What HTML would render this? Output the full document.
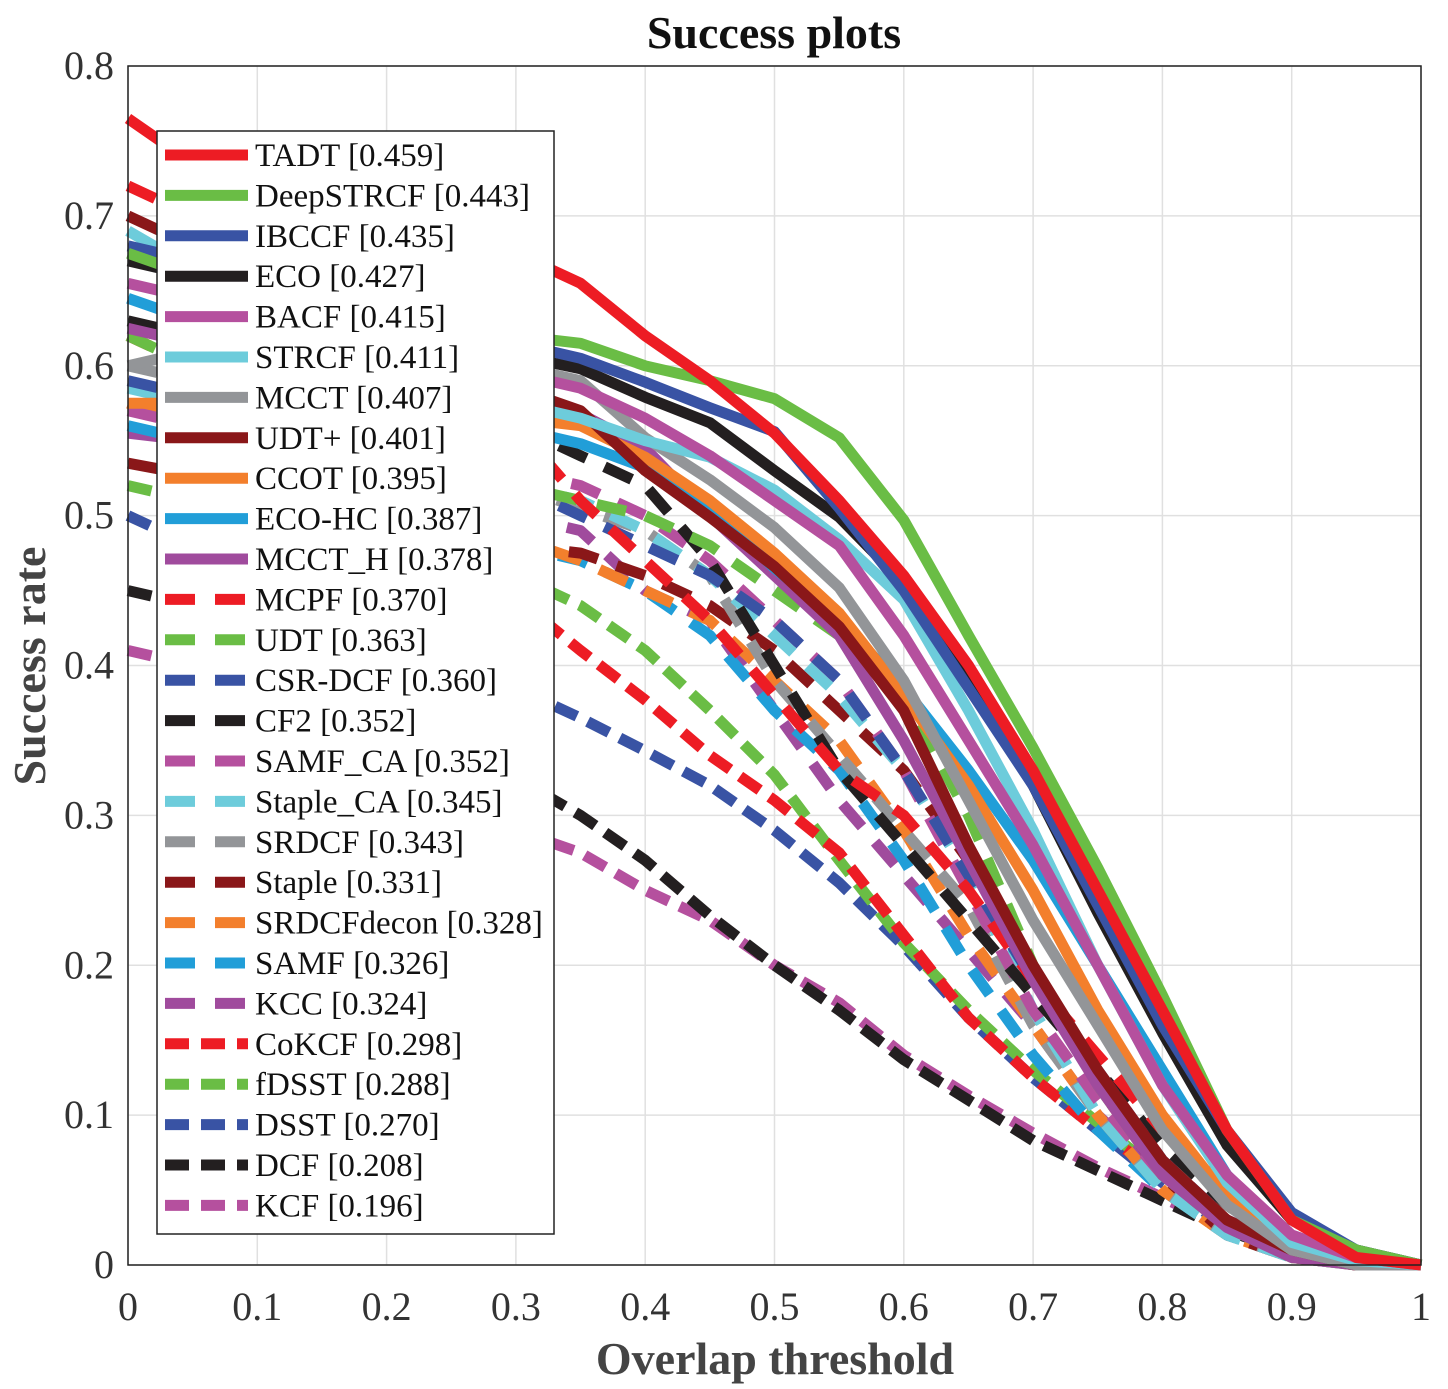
<!DOCTYPE html>
<html><head><meta charset="utf-8"><style>
html,body{margin:0;padding:0;background:#fff;}
svg text{font-family:"Liberation Serif",serif;}
</style></head><body>
<svg id="chart" width="1448" height="1384" xmlns="http://www.w3.org/2000/svg">
<g id="grid"></g>
<g id="series"></g>
<g id="axes"></g>
<g id="legend"></g>
</svg>
<script>
const xValues=[0,0.05,0.1,0.15,0.2,0.25,0.3,0.35,0.4,0.45,0.5,0.55,0.6,0.65,0.7,0.75,0.8,0.85,0.9,0.95,1];
const xTicks=[0,0.1,0.2,0.3,0.4,0.5,0.6,0.7,0.8,0.9,1];
const yTicks=[0,0.1,0.2,0.3,0.4,0.5,0.6,0.7,0.8];
const seriesNames=["TADT [0.459]","DeepSTRCF [0.443]","IBCCF [0.435]","ECO [0.427]","BACF [0.415]","STRCF [0.411]","MCCT [0.407]","UDT+ [0.401]","CCOT [0.395]","ECO-HC [0.387]","MCCT_H [0.378]","MCPF [0.370]","UDT [0.363]","CSR-DCF [0.360]","CF2 [0.352]","SAMF_CA [0.352]","Staple_CA [0.345]","SRDCF [0.343]","Staple [0.331]","SRDCFdecon [0.328]","SAMF [0.326]","KCC [0.324]","CoKCF [0.298]","fDSST [0.288]","DSST [0.270]","DCF [0.208]","KCF [0.196]"];
const sTADT=[0.765,0.735,0.72,0.71,0.70,0.69,0.675,0.655,0.62,0.59,0.555,0.51,0.46,0.40,0.33,0.25,0.17,0.09,0.03,0.005,0];
const sDeepSTRCF=[0.675,0.66,0.65,0.64,0.635,0.628,0.62,0.615,0.60,0.59,0.578,0.552,0.497,0.42,0.345,0.265,0.18,0.09,0.03,0.01,0];
const sIBCCF=[0.68,0.67,0.66,0.65,0.64,0.63,0.615,0.605,0.589,0.572,0.556,0.505,0.45,0.385,0.32,0.24,0.16,0.09,0.035,0.01,0];
const sECO=[0.67,0.66,0.65,0.64,0.63,0.62,0.607,0.598,0.579,0.562,0.53,0.499,0.455,0.39,0.32,0.235,0.155,0.08,0.03,0.01,0];
const sBACF=[0.655,0.645,0.635,0.625,0.615,0.605,0.595,0.585,0.565,0.54,0.51,0.48,0.42,0.35,0.28,0.2,0.12,0.06,0.02,0.005,0];
const sSTRCF=[0.69,0.665,0.645,0.625,0.605,0.59,0.575,0.565,0.55,0.539,0.517,0.484,0.444,0.37,0.29,0.2,0.12,0.055,0.015,0.003,0];
const sMCCT=[0.60,0.61,0.615,0.615,0.61,0.605,0.60,0.59,0.552,0.524,0.492,0.452,0.39,0.31,0.23,0.16,0.09,0.04,0.01,0,0];
const sUDTp=[0.70,0.68,0.66,0.64,0.62,0.60,0.585,0.57,0.53,0.499,0.466,0.426,0.37,0.28,0.2,0.13,0.07,0.03,0.01,0,0];
const sCCOT=[0.575,0.575,0.575,0.573,0.57,0.568,0.565,0.56,0.539,0.51,0.475,0.435,0.38,0.32,0.25,0.17,0.1,0.045,0.012,0,0];
const sECOHC=[0.645,0.63,0.615,0.6,0.585,0.57,0.558,0.548,0.532,0.505,0.465,0.43,0.385,0.33,0.27,0.2,0.13,0.06,0.015,0,0];
const sMCCTH=[0.625,0.615,0.605,0.595,0.588,0.58,0.575,0.568,0.545,0.5,0.46,0.42,0.35,0.27,0.19,0.12,0.06,0.025,0.005,0,0];
const sMCPF=[0.72,0.70,0.68,0.66,0.63,0.60,0.56,0.51,0.47,0.43,0.38,0.33,0.30,0.25,0.19,0.14,0.09,0.05,0.02,0.005,0];
const sUDT=[0.62,0.60,0.58,0.56,0.545,0.53,0.52,0.51,0.50,0.48,0.45,0.42,0.38,0.30,0.20,0.12,0.06,0.025,0.005,0,0];
const sCSRDCF=[0.59,0.58,0.57,0.56,0.55,0.535,0.52,0.50,0.48,0.46,0.43,0.39,0.33,0.26,0.19,0.13,0.07,0.03,0.01,0,0];
const sCF2=[0.63,0.62,0.61,0.60,0.59,0.575,0.56,0.54,0.52,0.47,0.40,0.33,0.28,0.23,0.18,0.13,0.08,0.04,0.01,0,0];
const sSAMFCA=[0.57,0.56,0.555,0.55,0.545,0.535,0.53,0.52,0.50,0.47,0.43,0.39,0.33,0.25,0.17,0.11,0.06,0.03,0.01,0,0];
const sStapleCA=[0.585,0.575,0.565,0.555,0.545,0.53,0.52,0.51,0.49,0.46,0.42,0.38,0.33,0.26,0.17,0.10,0.05,0.02,0.005,0,0];
const sSRDCF=[0.60,0.59,0.58,0.565,0.55,0.535,0.52,0.505,0.49,0.46,0.39,0.34,0.29,0.24,0.16,0.10,0.05,0.02,0.005,0,0];
const sStaple=[0.535,0.527,0.52,0.51,0.50,0.49,0.48,0.475,0.46,0.44,0.41,0.37,0.33,0.27,0.20,0.12,0.06,0.02,0.005,0,0];
const sSRDCFdecon=[0.575,0.56,0.545,0.53,0.515,0.50,0.485,0.47,0.45,0.43,0.39,0.35,0.29,0.22,0.16,0.10,0.05,0.02,0.005,0,0];
const sSAMF=[0.56,0.55,0.54,0.525,0.51,0.495,0.48,0.47,0.45,0.42,0.37,0.33,0.27,0.20,0.14,0.09,0.05,0.02,0.005,0,0];
const sKCC=[0.555,0.55,0.545,0.535,0.525,0.515,0.50,0.49,0.45,0.43,0.37,0.31,0.26,0.21,0.16,0.10,0.06,0.03,0.01,0,0];
const sCoKCF=[0.62,0.60,0.57,0.54,0.51,0.48,0.445,0.41,0.377,0.34,0.31,0.275,0.22,0.165,0.125,0.09,0.06,0.03,0.01,0,0];
const sfDSST=[0.52,0.51,0.50,0.49,0.48,0.47,0.46,0.44,0.41,0.37,0.327,0.27,0.215,0.17,0.13,0.095,0.06,0.03,0.01,0,0];
const sDSST=[0.50,0.48,0.46,0.44,0.42,0.405,0.385,0.365,0.343,0.32,0.29,0.255,0.213,0.165,0.125,0.09,0.055,0.025,0.008,0,0];
const sDCF=[0.45,0.44,0.425,0.405,0.385,0.36,0.325,0.30,0.27,0.233,0.20,0.17,0.137,0.11,0.083,0.063,0.043,0.023,0.008,0,0];
const sKCF=[0.41,0.40,0.385,0.365,0.345,0.32,0.29,0.275,0.25,0.23,0.20,0.175,0.14,0.113,0.088,0.065,0.045,0.025,0.01,0,0];
const seriesValues=[sTADT,sDeepSTRCF,sIBCCF,sECO,sBACF,sSTRCF,sMCCT,sUDTp,sCCOT,sECOHC,sMCCTH,sMCPF,sUDT,sCSRDCF,sCF2,sSAMFCA,sStapleCA,sSRDCF,sStaple,sSRDCFdecon,sSAMF,sKCC,sCoKCF,sfDSST,sDSST,sDCF,sKCF];

const palette=["#ED1C24","#6ABD45","#3953A4","#231F20","#B5509E","#6DCCDB","#939598","#8A1719","#F37F2C","#219ED8","#A04B9D"];
const L=128,R=1421,T=66,B=1265;
function xs(v){return L+v*(R-L);}
function ys(v){return B-v/0.8*(B-T);}
const NS="http://www.w3.org/2000/svg";
function mk(tag,attrs,parent){const e=document.createElementNS(NS,tag);for(const k in attrs)e.setAttribute(k,attrs[k]);parent.appendChild(e);return e;}
const grid=document.getElementById('grid'),axes=document.getElementById('axes'),ser=document.getElementById('series'),leg=document.getElementById('legend');
mk('rect',{x:L,y:T,width:R-L,height:B-T,fill:'#fff'},grid);
xTicks.forEach(t=>{const l=mk('line',{x1:xs(t),x2:xs(t),y1:T,y2:B,stroke:'#e0e0e0','stroke-width':1.5},grid);


const tx=mk('text',{x:xs(t),y:1320,'font-size':40,'text-anchor':'middle',fill:'#333'},axes);tx.textContent=String(t);

});
yTicks.forEach(t=>{const l=mk('line',{x1:L,x2:R,y1:ys(t),y2:ys(t),stroke:'#e0e0e0','stroke-width':1.5},grid);


const tx=mk('text',{x:114,y:ys(t)+13,'font-size':40,'text-anchor':'end',fill:'#333'},axes);tx.textContent=String(t);

});
function dashFor(i){return i<11?'none':(i<22?'30 20':'24 12');}
for(let i=seriesValues.length-1;i>=0;i--){
 const vals=seriesValues[i];
 const d=vals.map((v,j)=>(j?'L':'M')+xs(xValues[j]).toFixed(1)+' '+ys(v).toFixed(1)).join(' ');
 const p=mk('path',{d:d,fill:'none',stroke:palette[i%11],'stroke-width':11,'stroke-dasharray':dashFor(i),'stroke-linejoin':'round'},ser);
 
 
}
const box=mk('rect',{x:L,y:T,width:R-L,height:B-T,fill:'none',stroke:'#222','stroke-width':1.5},axes);


const lb=mk('rect',{x:157,y:131,width:397,height:1103,fill:'#fff',stroke:'#222','stroke-width':1.5},leg);


seriesNames.forEach((n,i)=>{
 const y=155+i*40.4;
 const ln=mk('line',{x1:165,x2:248,y1:y,y2:y,stroke:palette[i%11],'stroke-width':11,'stroke-dasharray':dashFor(i)},leg);
 
 
 const tx=mk('text',{x:255,y:y+11,'font-size':33,fill:'#111'},leg);tx.textContent=n;
 
 
});
const title=mk('text',{x:774,y:48,'font-size':46,'font-weight':'bold','text-anchor':'middle',fill:'#111'},axes);title.textContent='Success plots';


const xl=mk('text',{x:775,y:1374,'font-size':46,'font-weight':'bold','text-anchor':'middle',fill:'#444'},axes);xl.textContent='Overlap threshold';


const yl=mk('text',{x:0,y:0,'font-size':46,'font-weight':'bold','text-anchor':'middle',fill:'#444',transform:'translate(45,666) rotate(-90)'},axes);yl.textContent='Success rate';


</script>
</body></html>
